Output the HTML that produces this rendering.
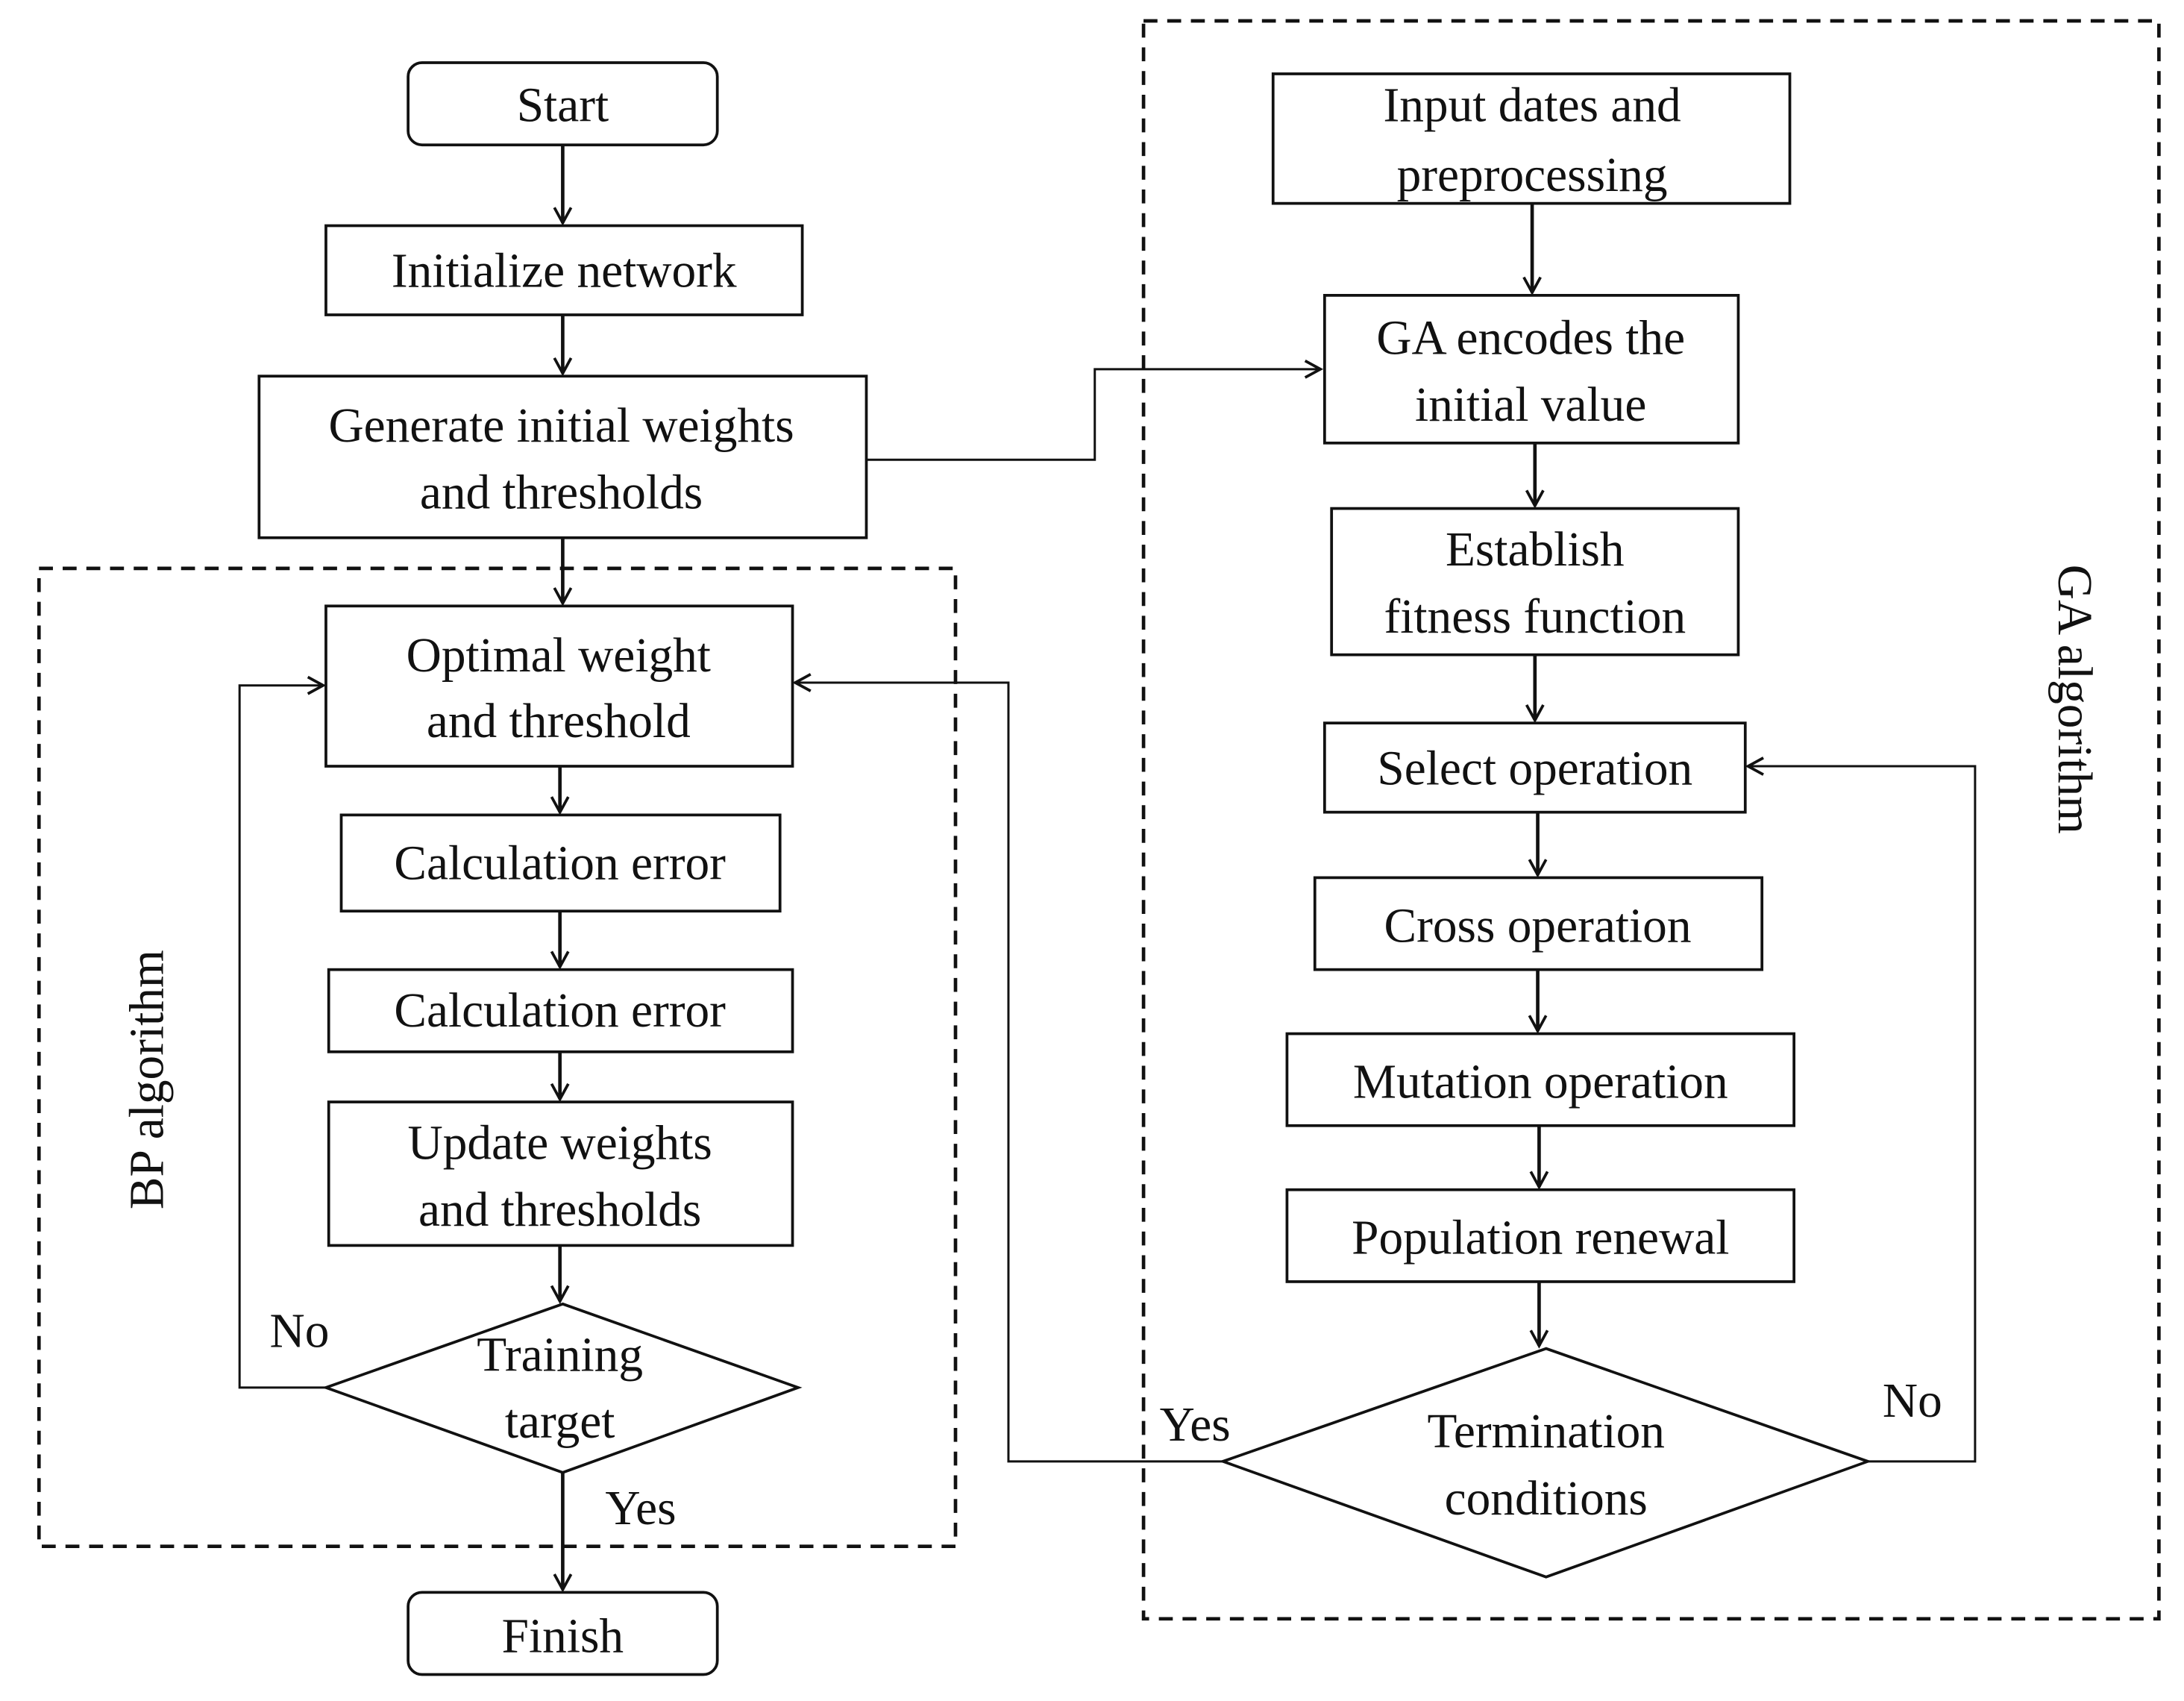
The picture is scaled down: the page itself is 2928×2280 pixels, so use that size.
<!DOCTYPE html>
<html><head><meta charset="utf-8"><style>
html,body{margin:0;padding:0;background:#fff;}
svg{display:block;}
text{font-family:"Liberation Serif","Times New Roman","DejaVu Serif",serif;font-size:35px;fill:#111;text-anchor:middle;}
</style></head><body>
<svg width="2928" height="2280" viewBox="0 0 1568 1221" preserveAspectRatio="none" xmlns="http://www.w3.org/2000/svg" font-family="Liberation Serif, Times New Roman, serif">
<defs>
<marker id="a" markerWidth="14" markerHeight="14" refX="12" refY="7" orient="auto" markerUnits="userSpaceOnUse">
<path d="M1,1 L12,7 L1,13" fill="none" stroke="#111" stroke-width="2"/>
</marker>
</defs>
<g fill="none" stroke="#111" stroke-width="2">
<rect x="28" y="408" width="658" height="702" stroke-dasharray="10,7" stroke-width="2.5"/>
<rect x="821" y="15" width="729" height="1147" stroke-dasharray="10,7" stroke-width="2.5"/>
<rect x="293" y="45" width="222" height="59" rx="10"/>
<rect x="234" y="162" width="342" height="64"/>
<rect x="186" y="270" width="436" height="116"/>
<rect x="234" y="435" width="335" height="115"/>
<rect x="245" y="585" width="315" height="69"/>
<rect x="236" y="696" width="333" height="59"/>
<rect x="236" y="791" width="333" height="103"/>
<polygon points="404,936 573,996 404,1057 234,996"/>
<rect x="293" y="1143" width="222" height="59" rx="10"/>
<rect x="914" y="53" width="371" height="93"/>
<rect x="951" y="212" width="297" height="106"/>
<rect x="956" y="365" width="292" height="105"/>
<rect x="951" y="519" width="302" height="64"/>
<rect x="944" y="630" width="321" height="66"/>
<rect x="924" y="742" width="364" height="66"/>
<rect x="924" y="854" width="364" height="66"/>
<polygon points="1110,968 1341,1049 1110,1132 878,1049"/>
<g stroke-width="2.5">
<line x1="404" y1="104" x2="404" y2="160" marker-end="url(#a)"/>
<line x1="404" y1="226" x2="404" y2="268" marker-end="url(#a)"/>
<line x1="404" y1="386" x2="404" y2="433" marker-end="url(#a)"/>
<line x1="402" y1="550" x2="402" y2="583" marker-end="url(#a)"/>
<line x1="402" y1="654" x2="402" y2="694" marker-end="url(#a)"/>
<line x1="402" y1="755" x2="402" y2="789" marker-end="url(#a)"/>
<line x1="402" y1="894" x2="402" y2="934" marker-end="url(#a)"/>
<line x1="404" y1="1057" x2="404" y2="1141" marker-end="url(#a)"/>
<line x1="1100" y1="146" x2="1100" y2="210" marker-end="url(#a)"/>
<line x1="1102" y1="318" x2="1102" y2="363" marker-end="url(#a)"/>
<line x1="1102" y1="470" x2="1102" y2="517" marker-end="url(#a)"/>
<line x1="1104" y1="583" x2="1104" y2="628" marker-end="url(#a)"/>
<line x1="1104" y1="696" x2="1104" y2="740" marker-end="url(#a)"/>
<line x1="1105" y1="808" x2="1105" y2="852" marker-end="url(#a)"/>
<line x1="1105" y1="920" x2="1105" y2="966" marker-end="url(#a)"/>
</g>
<g stroke-width="1.6">
<polyline points="234,996 172,996 172,492 232,492" marker-end="url(#a)"/>
<polyline points="622,330 786,330 786,265 948,265" marker-end="url(#a)"/>
<polyline points="1341,1049 1418,1049 1418,550 1255,550" marker-end="url(#a)"/>
<polyline points="878,1049 724,1049 724,490 571,490" marker-end="url(#a)"/>
</g>
</g>
<text x="404" y="87">Start</text>
<text x="405" y="206">Initialize network</text>
<text x="403" y="317">Generate initial weights</text>
<text x="403" y="365">and thresholds</text>
<text x="401" y="482">Optimal weight</text>
<text x="401" y="529">and threshold</text>
<text x="402" y="631">Calculation error</text>
<text x="402" y="737">Calculation error</text>
<text x="402" y="832">Update weights</text>
<text x="402" y="880">and thresholds</text>
<text x="402" y="984">Training</text>
<text x="402" y="1032">target</text>
<text x="215" y="967">No</text>
<text x="460" y="1094">Yes</text>
<text x="404" y="1186">Finish</text>
<text x="1100" y="87">Input dates and</text>
<text x="1100" y="137">preprocessing</text>
<text x="1099" y="254">GA encodes the</text>
<text x="1099" y="302">initial value</text>
<text x="1102" y="406">Establish</text>
<text x="1102" y="454">fitness function</text>
<text x="1102" y="563">Select operation</text>
<text x="1104" y="676">Cross operation</text>
<text x="1106" y="788">Mutation operation</text>
<text x="1106" y="900">Population renewal</text>
<text x="1110" y="1039">Termination</text>
<text x="1110" y="1087">conditions</text>
<text x="858" y="1034">Yes</text>
<text x="1373" y="1017">No</text>
<text x="0" y="0" transform="translate(117,775) rotate(-90)">BP algorithm</text>
<text x="0" y="0" transform="translate(1478,502) rotate(90)">GA algorithm</text>
</svg>
</body></html>
